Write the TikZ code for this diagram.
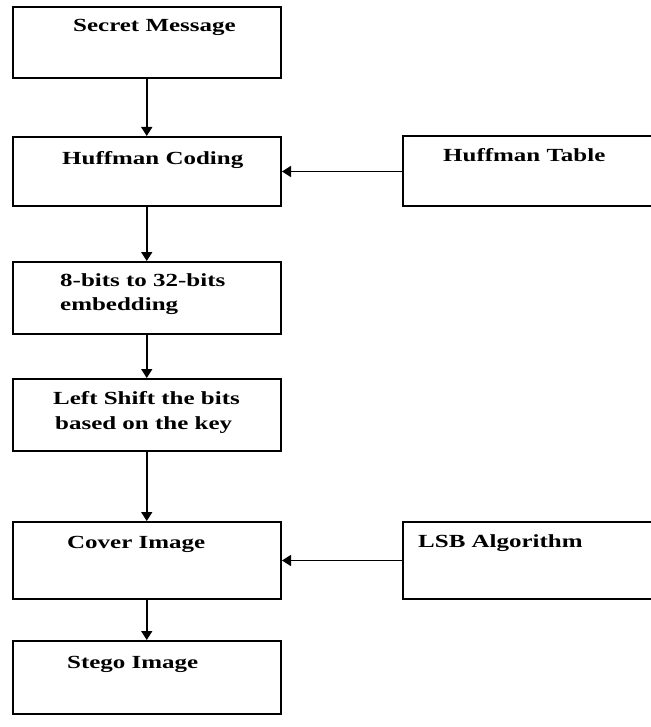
\documentclass[tikz,border=0pt]{standalone}
\usepackage{fontspec}
\setmainfont{Liberation Serif}
\newfontfamily\lblfont{Liberation Serif}[FakeStretch=1.35]
\usetikzlibrary{arrows.meta}
\begin{document}
\begin{tikzpicture}[x=1pt,y=-1pt,
  blk/.style={draw,line width=2pt,rectangle,inner sep=0pt},
  lbl/.style={anchor=base west,inner sep=0pt,font=\lblfont\fontsize{18.5}{24}\selectfont\bfseries},
  flow/.style={line width=1.6pt,-{Triangle[length=9pt,width=11pt]}}]
\useasboundingbox (0,0) rectangle (650,727);
% boxes of the main chain
\node[blk,minimum width=268.5pt,minimum height=71pt] (sm) at (146.75,42.5) {};
\node[blk,minimum width=268.5pt,minimum height=69pt] (hc) at (146.75,171.5) {};
\node[blk,minimum width=268.5pt,minimum height=72pt] (eb) at (146.75,298) {};
\node[blk,minimum width=268.5pt,minimum height=72pt] (ls) at (146.75,415) {};
\node[blk,minimum width=268.5pt,minimum height=77pt] (ci) at (146.75,560.5) {};
\node[blk,minimum width=268.5pt,minimum height=73pt] (st) at (146.75,677.5) {};
% side inputs (running off the right edge)
\node[blk,minimum width=252pt,minimum height=70pt] (ht) at (529,171.5) {};
\node[blk,minimum width=252pt,minimum height=77pt] (la) at (529,560.5) {};
% labels
\node[lbl] (tsm) at (73,32) {Secret Message};
\node[lbl] (thc) at (62,165) {Huffman Coding};
\node[lbl] (tht) at (443,162) {Huffman Table};
\node[lbl] (teb1) at (60,286) {8-bits to 32-bits};
\node[lbl] (teb2) at (60,310) {embedding};
\node[lbl] (tls1) at (53,404) {Left Shift the bits};
\node[lbl] (tls2) at (55,429) {based on the key};
\node[lbl] (tci) at (67,548) {Cover Image};
\node[lbl] (tla) at (418,547) {LSB Algorithm};
\node[lbl] (tst) at (67,668) {Stego Image};
% connectors
\draw[flow] (sm) -- (hc);
\draw[flow] (hc) -- (eb);
\draw[flow] (eb) -- (ls);
\draw[flow] (ls) -- (ci);
\draw[flow] (ci) -- (st);
\draw[flow] (ht.west) -- (hc.east |- ht.west);
\draw[flow] (la.west) -- (ci.east |- la.west);
\end{tikzpicture}
\end{document}
